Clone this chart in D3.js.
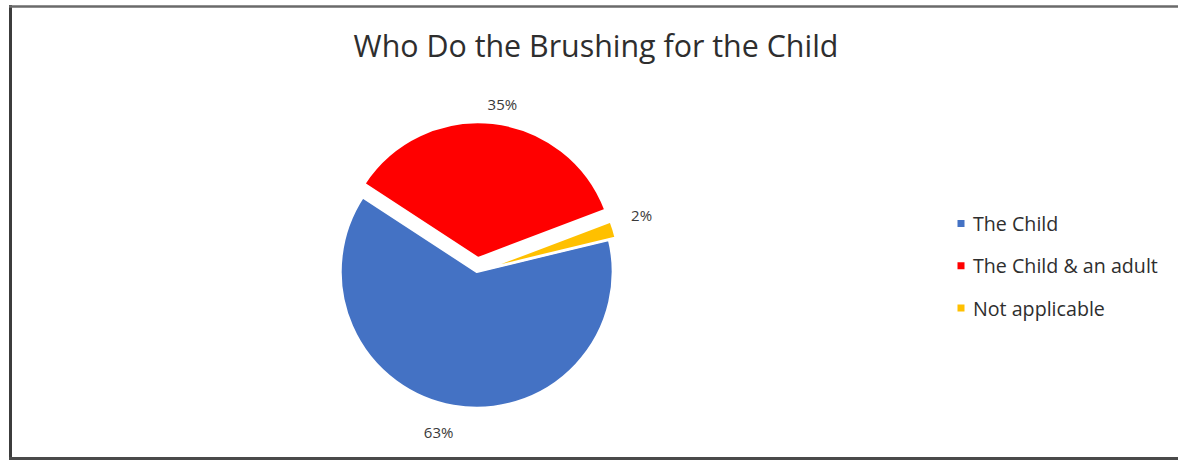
<!DOCTYPE html>
<html>
<head>
<meta charset="utf-8">
<script src="https://cdn.jsdelivr.net/npm/d3@7"></script>
<style>
  html, body { margin: 0; padding: 0; background: #ffffff; }
  svg { display: block; }
  text { font-family: "Open Sans", "Noto Sans", sans-serif; }
</style>
</head>
<body>
<svg id="chart" width="1178" height="461"></svg>
<script>
// Survey answers: who brushes the child's teeth
const categories = ["The Child", "The Child & an adult", "Not applicable"];
const shares = [63, 35, 2];
const valueLabels = ["63%", "35%", "2%"];
const chartTitle = "Who Do the Brushing for the Child";

// Presentation
const colors = ["#4472C4", "#FF0000", "#FFC000"];
const explode = [0, 13.5, 7];             // radial offset of each slice (px)
const labelTweak = [[3.6, 164.5], [2.7, 156.5], [-2, 167.5]]; // [angle shift deg, radius] per label

const W = 1178, H = 461;
const cx = 476.7, cy = 271.7, radius = 136.2;
const firstSliceDeg = 76.4;

const svg = d3.select("#chart");

// chart frame (left, top and bottom edges are visible)
const frame = svg.append("g").attr("fill", "none");
frame.append("line").attr("x1", 10.5).attr("x2", 10.5).attr("y1", 5).attr("y2", 460)
  .attr("stroke", "#3c3c3c").attr("stroke-width", 3);
frame.append("line").attr("x1", 9).attr("x2", W).attr("y1", 6.5).attr("y2", 6.5)
  .attr("stroke", "#6a6a6a").attr("stroke-width", 2.5);
frame.append("line").attr("x1", 9).attr("x2", W).attr("y1", 458.5).attr("y2", 458.5)
  .attr("stroke", "#4a4a4a").attr("stroke-width", 3);

// fit a text element to a target width
function fitWidth(sel, target) {
  const node = sel.node();
  const fs = parseFloat(sel.attr("font-size"));
  const w = node.getComputedTextLength();
  sel.attr("font-size", fs * target / w);
}

// title
const title = svg.append("text")
  .attr("x", 596).attr("y", 57)
  .attr("text-anchor", "middle")
  .attr("font-size", 28)
  .attr("fill", "#2e2e2e")
  .text(chartTitle);
fitWidth(title, 485);

// pie
const toRad = d => d * Math.PI / 180;
const pie = d3.pie().sort(null).value(d => d)
  .startAngle(toRad(firstSliceDeg))
  .endAngle(toRad(firstSliceDeg) + 2 * Math.PI);
const arcs = pie(shares);
const arc = d3.arc().innerRadius(0).outerRadius(radius);

const g = svg.append("g").attr("transform", `translate(${cx},${cy})`);

g.selectAll("path.slice")
  .data(arcs)
  .join("path")
  .attr("class", "slice")
  .attr("transform", (d, i) => {
    const a = (d.startAngle + d.endAngle) / 2;
    return `translate(${Math.sin(a) * explode[i]},${-Math.cos(a) * explode[i]})`;
  })
  .attr("d", arc)
  .attr("fill", (d, i) => colors[i])
  .attr("stroke", "#ffffff")
  .attr("stroke-width", 2.5)
  .attr("stroke-linejoin", "round");

// value labels outside each slice
g.selectAll("text.val")
  .data(arcs)
  .join("text")
  .attr("class", "val")
  .attr("text-anchor", "middle")
  .attr("dominant-baseline", "central")
  .attr("font-size", 15)
  .attr("fill", "#3a3a3a")
  .attr("x", (d, i) => {
    const a = (d.startAngle + d.endAngle) / 2;
    const la = a + toRad(labelTweak[i][0]);
    return Math.sin(a) * explode[i] + Math.sin(la) * labelTweak[i][1];
  })
  .attr("y", (d, i) => {
    const a = (d.startAngle + d.endAngle) / 2;
    const la = a + toRad(labelTweak[i][0]);
    return -Math.cos(a) * explode[i] - Math.cos(la) * labelTweak[i][1];
  })
  .text((d, i) => valueLabels[i]);

// legend
const legendY = d3.scalePoint().domain(categories).range([223.5, 308]);
const legend = svg.append("g");
const items = legend.selectAll("g")
  .data(categories)
  .join("g")
  .attr("transform", d => `translate(961,${legendY(d)})`);
items.append("rect")
  .attr("x", -3.5).attr("y", -3.5).attr("width", 7).attr("height", 7)
  .attr("fill", (d, i) => colors[i]);
const legendTexts = items.append("text")
  .attr("x", 12).attr("y", 0)
  .attr("dominant-baseline", "central")
  .attr("font-size", 16)
  .attr("fill", "#2e2e2e")
  .text(d => d);
// size legend font from the longest entry
const longest = legendTexts.filter((d, i) => i === 1);
fitWidth(longest, 185);
legendTexts.attr("font-size", longest.attr("font-size"));
</script>
</body>
</html>
